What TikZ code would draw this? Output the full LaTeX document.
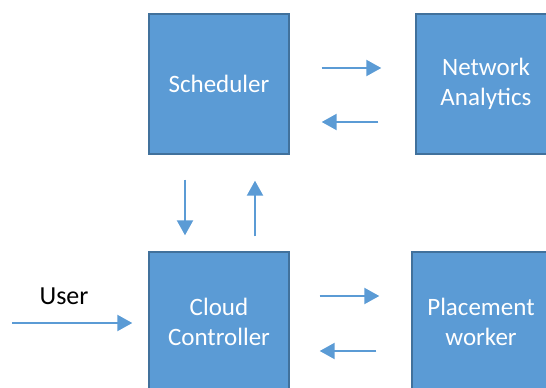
\documentclass[tikz,border=0pt]{standalone}
\usepackage{fontspec}
\setmainfont{Carlito}
\usetikzlibrary{arrows.meta}

\definecolor{boxblue}{HTML}{5B9BD5}
\definecolor{boxedge}{HTML}{41719C}

\tikzset{
  block/.style={draw=boxedge, line width=1.4pt, fill=boxblue, text=white,
    minimum width=140pt, minimum height=140pt, align=center, inner sep=0pt,
    font=\fontsize{25}{30}\selectfont},
  plain/.style={font=\fontsize{26}{30}\selectfont, inner sep=0pt},
  flow/.style={draw=boxblue, line width=2.2pt, -{Triangle[length=15pt,width=16pt]}},
}

\begin{document}
\begin{tikzpicture}[x=1pt,y=-1pt]
      % \draw[help lines](0,0) grid (546,388);
      \path[use as bounding box, clip] (0,0) rectangle (546,388);

      \draw (219,84) node[block] (sched) {Scheduler};
      \draw (486,84) node[block] (net) {Network\\Analytics};
      \draw (219,322) node[block] (cloud) {Cloud\\Controller};
      \draw (481,322) node[block, minimum width=138pt] (place) {Placement\\worker};

      \draw (64,296) node[plain] (user) {User};
      \coordinate (userin) at (12,323);

      \draw[flow, shorten <=32pt, shorten >=34pt] ([yshift=16pt]sched.east) -- ([yshift=16pt]net.west);
      \draw[flow, shorten <=37pt, shorten >=32pt] ([yshift=-38pt]net.west) -- ([yshift=-38pt]sched.east);
      \draw[flow, shorten <=25pt, shorten >=16pt] ([xshift=-34pt]sched.south) -- ([xshift=-34pt]cloud.north);
      \draw[flow, shorten <=15pt, shorten >=26pt] ([xshift=36pt]cloud.north) -- ([xshift=36pt]sched.south);
      \draw[flow, shorten <=30pt, shorten >=32pt] ([yshift=26pt]cloud.east) -- ([yshift=26pt]place.west);
      \draw[flow, shorten <=35pt, shorten >=30pt] ([yshift=-29pt]place.west) -- ([yshift=-29pt]cloud.east);
      \draw[flow, shorten >=16pt] (userin) -- (userin -| cloud.west);
\end{tikzpicture}
\end{document}
